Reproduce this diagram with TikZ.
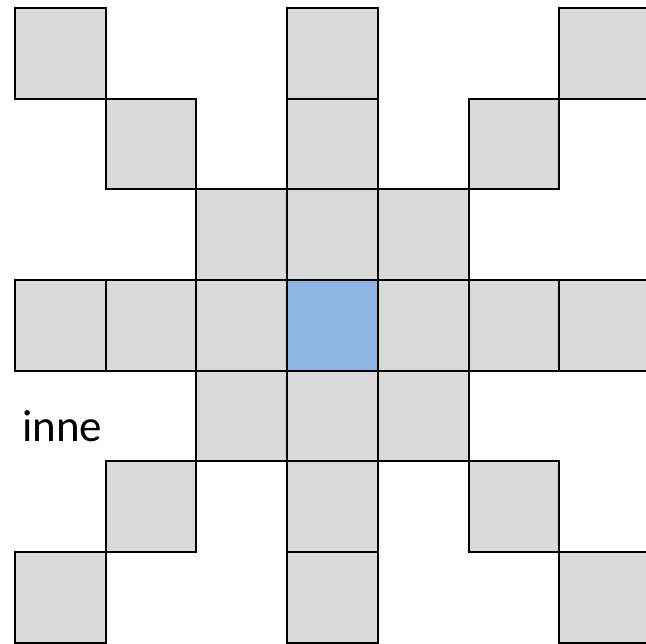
\documentclass[tikz,border=0pt]{standalone}
\usepackage{fontspec}
\setmainfont{Carlito}
\definecolor{cellgray}{HTML}{D9D9D9}
\definecolor{cellblue}{HTML}{8EB4E3}
\tikzset{
  cell/.style={draw=black, line width=2pt, fill=cellgray, minimum size=90.7pt, inner sep=0pt, outer sep=0pt},
  centercell/.style={cell, fill=cellblue},
  lbl/.style={inner sep=0pt, font=\fontsize{45}{54}\selectfont}
}
\begin{document}
\begin{tikzpicture}[x=1pt,y=-1pt]
\useasboundingbox (0,0) rectangle (646,644);
\clip (0,0) rectangle (646,644);
\foreach \r/\c in {0/0,0/3,0/6,1/1,1/3,1/5,2/2,2/3,2/4,3/0,3/1,3/2,3/4,3/5,3/6,4/2,4/3,4/4,5/1,5/3,5/5,6/0,6/3,6/6}{
  \node[cell] (c\r\c) at ({15+90.7*\c+45.35},{8+90.7*\r+45.35}) {};
}
\node[centercell] (c33) at ({15+90.7*3+45.35},{8+90.7*3+45.35}) {};
\node[lbl, anchor=base west] (label) at (22,442) {inne};
\end{tikzpicture}
\end{document}
